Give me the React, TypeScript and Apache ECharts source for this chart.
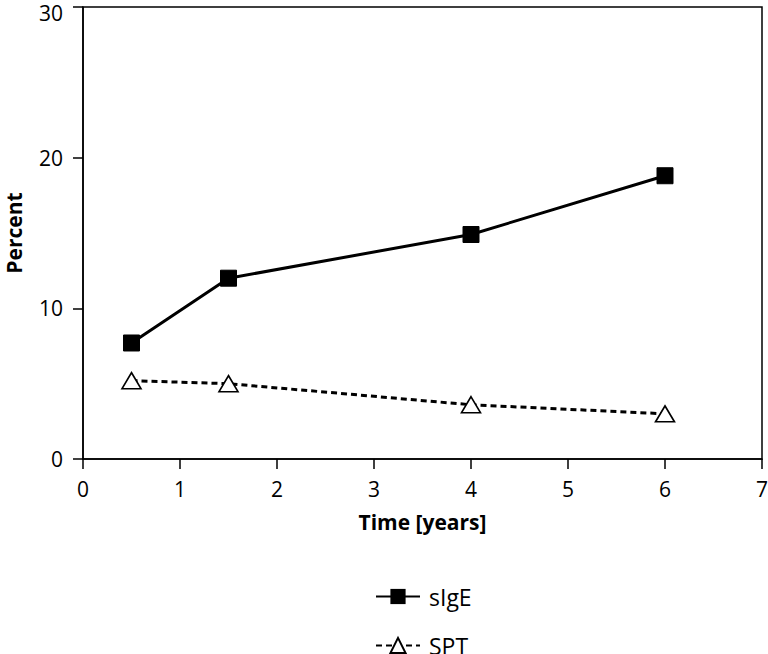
import React, { useEffect, useRef } from "react";
import * as echarts from "echarts";

const years = [0.5, 1.5, 4, 6];
const sIgE = [7.7, 12.0, 14.9, 18.8];
const spt = [5.2, 5.0, 3.6, 3.0];
const seriesNames = ["sIgE", "SPT"];

const FONT = "'Open Sans', 'Noto Sans', sans-serif";

export default function App() {
  const ref = useRef<HTMLDivElement>(null);
  useEffect(() => {
    if (!ref.current) return;
    const chart = echarts.init(ref.current, undefined, { renderer: "svg" });
    const legendBase = {
      orient: "vertical",
      left: 375,
      padding: 0,
      itemWidth: 44,
      itemHeight: 19,
      textStyle: { fontSize: 23, color: "#000", fontFamily: FONT, padding: [0, 0, 0, 4] },
    };
    chart.setOption({
      animation: false,
      backgroundColor: "#fff",
      textStyle: { fontFamily: FONT, color: "#000" },
      grid: {
        left: 83,
        right: 6,
        top: 7,
        bottom: 195,
        show: true,
        borderColor: "#000",
        borderWidth: 1.5,
        outerBoundsMode: "none",
        containLabel: false,
      },
      legend: [
        { ...legendBase, top: 585, data: [seriesNames[0]] },
        { ...legendBase, top: 634, data: [seriesNames[1]] },
      ],
      xAxis: {
        type: "value",
        min: 0,
        max: 7,
        interval: 1,
        name: "Time [years]",
        nameLocation: "middle",
        nameGap: 52,
        nameTextStyle: { fontSize: 21, fontWeight: "bold", color: "#000", fontFamily: FONT },
        axisLine: { lineStyle: { color: "#000", width: 1.5 } },
        axisTick: { show: true, length: 10, inside: false, lineStyle: { color: "#000", width: 1.5 } },
        axisLabel: { fontSize: 21, color: "#000", margin: 19, fontFamily: FONT },
        splitLine: { show: false },
      },
      yAxis: {
        type: "value",
        min: 0,
        max: 30,
        interval: 10,
        name: "Percent",
        nameLocation: "middle",
        nameGap: 59,
        nameTextStyle: { fontSize: 21, fontWeight: "bold", color: "#000", fontFamily: FONT },
        axisLine: { show: true, lineStyle: { color: "#000", width: 1.5 } },
        axisTick: { show: true, length: 10, inside: false, lineStyle: { color: "#000", width: 1.5 } },
        axisLabel: {
          fontSize: 21,
          color: "#000",
          margin: 20,
          fontFamily: FONT,
          formatter: (v: number) => (v === 30 ? "{t|" + v + "}" : String(v)),
          rich: { t: { fontSize: 21, color: "#000", fontFamily: FONT, padding: [12, 0, 0, 0] } },
        },
        splitLine: { show: false },
      },
      series: [
        {
          name: seriesNames[0],
          type: "line",
          data: years.map((x, i) => [x, sIgE[i]]),
          symbol: "rect",
          symbolSize: 16,
          itemStyle: { color: "#000", borderColor: "#000" },
          lineStyle: { color: "#000", width: 3 },
          z: 3,
        },
        {
          name: seriesNames[1],
          type: "line",
          data: years.map((x, i) => [x, spt[i]]),
          symbol: "triangle",
          symbolSize: [19, 16],
          itemStyle: { color: "#fff", borderColor: "#000", borderWidth: 1.6 },
          lineStyle: { color: "#000", width: 3, type: [6, 4] },
          z: 2,
        },
      ],
    });
    return () => chart.dispose();
  }, []);
  return (
    <div
      ref={ref}
      style={{ position: "fixed", left: 0, top: 0, width: 768, height: 654 }}
    />
  );
}
